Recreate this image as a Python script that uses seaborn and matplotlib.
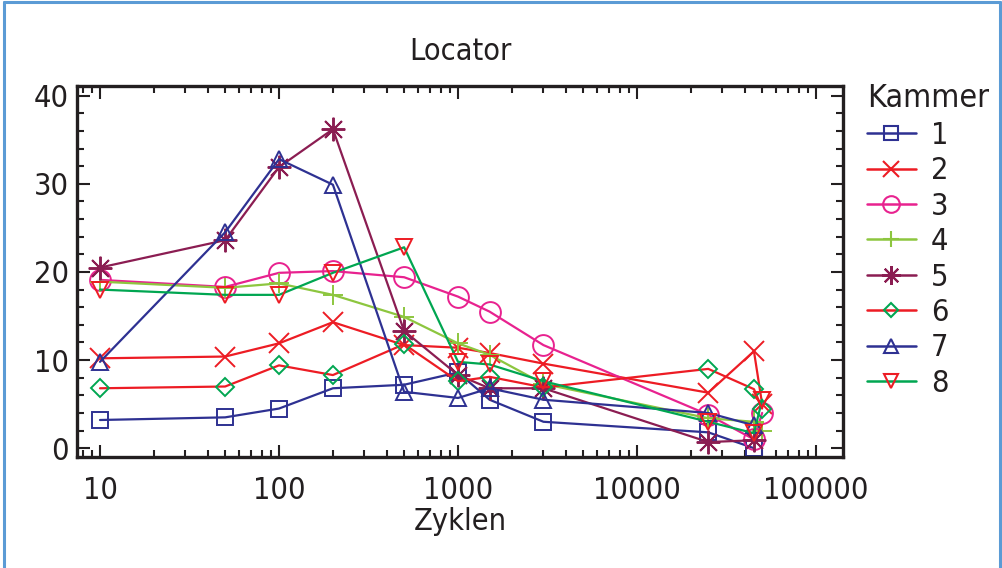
import matplotlib
matplotlib.use("Agg")
import matplotlib.pyplot as plt
from matplotlib.lines import Line2D
from matplotlib.ticker import LogLocator, FixedLocator, NullFormatter
import seaborn as sns
import numpy as np
import pandas as pd

# Daten
zyklen = [10, 50, 100, 200, 500, 1000, 1500, 3000, 25000, 45000, 50000]
nan = np.nan
kammer_1 = [3.2, 3.5, 4.5, 6.8, 7.2, 8.6, 5.5, 3.0, 1.8, 0.0, nan]
kammer_2 = [10.2, 10.4, 11.9, 14.3, 11.7, 11.4, 10.8, 9.6, 6.3, 11.0, 5.0]
kammer_3 = [19.1, 18.3, 19.9, 20.1, 19.4, 17.2, 15.5, 11.7, 3.8, 1.0, 4.0]
kammer_4 = [18.9, 18.2, 18.7, 17.4, 14.9, 11.9, 10.6, 7.3, 3.4, 3.0, 2.0]
kammer_5 = [20.5, 23.6, 31.9, 36.2, 13.3, 8.3, 6.8, 6.8, 0.7, 0.9, nan]
kammer_6 = [6.8, 7.0, 9.4, 8.3, 11.8, 7.6, 8.1, 6.9, 9.0, 6.7, 4.5]
kammer_7 = [9.8, 24.5, 32.8, 29.9, 6.4, 5.7, 6.8, 5.5, 4.0, 2.6, nan]
kammer_8 = [18.0, 17.4, 17.4, 19.9, 22.8, 9.8, 9.5, 7.6, 3.0, 1.7, 5.5]
labels = ["1", "2", "3", "4", "5", "6", "7", "8"]

serien = [kammer_1, kammer_2, kammer_3, kammer_4, kammer_5, kammer_6, kammer_7, kammer_8]

navy = "#2e3192"
rot = "#ed1c24"
pink = "#e8228f"
hellgruen = "#8dc63f"
bordeaux = "#8b1d52"
gruen = "#00a651"

# (Linienfarbe, Markerfarbe, Marker, Größe)
stile = [
    (navy, navy, "s", 12),
    (rot, rot, "x", 15),
    (pink, pink, "o", 15),
    (hellgruen, hellgruen, "+", 15),
    (bordeaux, bordeaux, (8, 2, 0), 17),
    (rot, gruen, "D", 9),
    (navy, navy, "^", 12),
    (gruen, rot, "v", 12),
]

sns.set_style("ticks")
plt.rcParams["font.family"] = ["DejaVu Sans"]
plt.rcParams["font.stretch"] = "condensed"

fig = plt.figure(figsize=(10.03, 5.68), dpi=100)
ax = fig.add_axes([0.0771, 0.1954, 0.7634, 0.6532])

df = pd.DataFrame({"Zyklen": zyklen})
for lab, werte, (lc, mc, m, ms) in zip(labels, serien, stile):
    df["Kammer " + lab] = werte
    d = df[["Zyklen", "Kammer " + lab]].dropna()
    sns.lineplot(data=d, x="Zyklen", y="Kammer " + lab, ax=ax, color=lc,
                 marker=m, markersize=ms, markeredgecolor=mc,
                 markerfacecolor="none", markeredgewidth=1.4,
                 linewidth=1.6, legend=False)

ax.set_xscale("log")
ax.set_xlim(7.47, 141500)
ax.set_ylim(-1.0, 41.1)
ax.set_yticks([0, 10, 20, 30, 40])
ax.yaxis.set_minor_locator(FixedLocator(np.arange(0, 41, 2)))
ax.xaxis.set_major_locator(FixedLocator([10, 100, 1000, 10000, 100000]))
ax.set_xticklabels(["10", "100", "1000", "10000", "100000"])
ax.xaxis.set_minor_locator(LogLocator(base=10, subs=np.arange(2, 10)))
ax.xaxis.set_minor_formatter(NullFormatter())

ax.tick_params(which="both", direction="in", top=True, right=True,
               width=1.5, colors="#231f20", labelsize=22)
ax.tick_params(which="major", length=9)
ax.tick_params(which="minor", length=5)
ax.tick_params(axis="x", pad=14)
ax.tick_params(axis="y", pad=6)
for s in ax.spines.values():
    s.set_linewidth(2.4)
    s.set_color("#231f20")

ax.set_xlabel("Zyklen", fontsize=22, color="#231f20", labelpad=1)
ax.set_ylabel("")
ax.set_title("Locator", fontsize=22, color="#231f20", pad=19)

handles = []
for lab, (lc, mc, m, ms) in zip(labels, stile):
    handles.append(Line2D([0], [0], color=lc, linewidth=1.8, marker=m,
                          markersize=ms * 0.8, markeredgecolor=mc,
                          markerfacecolor="none", markeredgewidth=1.5))
leg = fig.legend(handles, labels, title="Kammer", loc="upper left",
                 bbox_to_anchor=(0.849, 0.88), frameon=False, fontsize=22,
                 title_fontsize=23, handlelength=1.6, handletextpad=0.5,
                 labelspacing=0.21, borderpad=0, alignment="left")
for t in leg.get_texts():
    t.set_color("#231f20")
leg.get_title().set_color("#231f20")

# blauer Rahmen
rahmen = "#5b9bd5"
fig.add_artist(Line2D([0.004, 0.004], [0, 0.996], color=rahmen, linewidth=2.2))
fig.add_artist(Line2D([0.004, 0.997], [0.996, 0.996], color=rahmen, linewidth=2.2))
fig.add_artist(Line2D([0.997, 0.997], [0, 0.996], color=rahmen, linewidth=2.2))

fig.savefig("out.png", dpi=100)
